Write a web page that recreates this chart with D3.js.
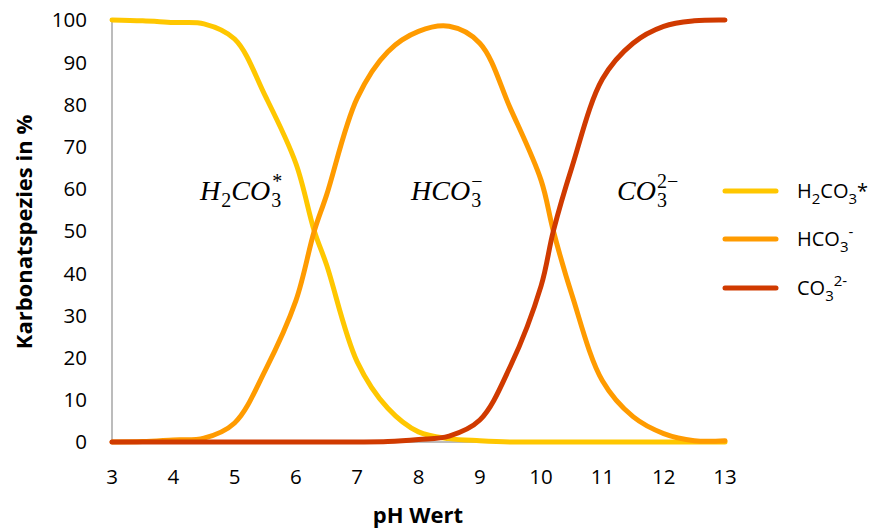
<!DOCTYPE html>
<html>
<head>
<meta charset="utf-8">
<script src="https://cdn.jsdelivr.net/npm/d3@7"></script>
<style>
  html, body { margin: 0; padding: 0; background: #fff; }
  svg { display: block; }
</style>
</head>
<body>
<svg id="chart" width="883" height="531"></svg>
<script>
// ---- data ----
const pH = [3, 3.5, 4, 4.5, 5, 5.5, 6, 6.3, 6.5, 7, 7.5, 8, 8.5, 9, 9.5, 10, 10.2, 10.5, 11, 11.5, 12, 12.5, 13];
const h2co3 = [100, 99.8, 99.4, 99.1, 95.5, 82, 66, 50, 42, 19, 8, 2.4, 0.8, 0.3, 0, 0, 0, 0, 0, 0, 0, 0, 0];
const hco3  = [0, 0.1, 0.5, 0.9, 4.5, 17, 33.5, 50, 58.5, 81.5, 92.5, 97.3, 98.5, 94.5, 79, 62, 50, 35, 14.5, 6, 2, 0.3, 0.3];
const co3   = [0, 0, 0, 0, 0, 0, 0, 0, 0, 0, 0.1, 0.6, 1.4, 5.2, 18, 37, 50, 65, 86, 94.5, 98.5, 99.8, 100];
const seriesNames = ["H2CO3*", "HCO3-", "CO3 2-"];
const xTicks = [3, 4, 5, 6, 7, 8, 9, 10, 11, 12, 13];
const yTicks = [0, 10, 20, 30, 40, 50, 60, 70, 80, 90, 100];
const xTitle = "pH Wert";
const yTitle = "Karbonatspezies in %";
const colors = ["#FFC700", "#FF9B00", "#D03A00"];

const svg = d3.select("#chart");
const x = d3.scaleLinear().domain([3, 13]).range([112, 725]);
const y = d3.scaleLinear().domain([0, 100]).range([442, 20]);
const tickFont = "'Open Sans', Lato, sans-serif";

// axes lines
svg.append("line").attr("x1", x(3)).attr("x2", x(13)).attr("y1", y(0)).attr("y2", y(0))
  .attr("stroke", "#a6a6a6").attr("stroke-width", 1.5);
svg.append("line").attr("x1", x(3)).attr("x2", x(3)).attr("y1", y(0)).attr("y2", y(100))
  .attr("stroke", "#a6a6a6").attr("stroke-width", 1.5);

// tick labels
svg.append("g").selectAll("text").data(yTicks).join("text")
  .attr("x", 87).attr("y", d => y(d)).attr("dy", "0.36em")
  .attr("text-anchor", "end").attr("font-family", tickFont).attr("font-size", 20.5).attr("fill", "#000")
  .text(d => d);
svg.append("g").selectAll("text").data(xTicks).join("text")
  .attr("x", d => x(d)).attr("y", 477).attr("dy", "0.36em")
  .attr("text-anchor", "middle").attr("font-family", tickFont).attr("font-size", 20.5).attr("fill", "#000")
  .text(d => d);

// axis titles
svg.append("text").attr("x", 418).attr("y", 523).attr("text-anchor", "middle")
  .attr("font-family", tickFont).attr("font-weight", "bold").attr("font-size", 22).text(xTitle);
svg.append("text").attr("transform", "translate(24,232) rotate(-90)").attr("dy", "0.36em")
  .attr("text-anchor", "middle").attr("font-family", tickFont).attr("font-weight", "bold")
  .attr("font-size", 22).text(yTitle);

// lines
const series = [h2co3, hco3, co3];
const line = d3.line().x((d, i) => x(pH[i])).y(d => y(d)).curve(d3.curveCatmullRom.alpha(0.5));
svg.append("g").selectAll("path").data(series).join("path")
  .attr("d", d => line(d)).attr("fill", "none")
  .attr("stroke", (d, i) => colors[i]).attr("stroke-width", 5)
  .attr("stroke-linecap", "round").attr("stroke-linejoin", "round");

// annotations (italic math style)
const mathFont = "'Liberation Serif', 'DejaVu Serif', serif";
function mathLabel(xp, parts) {
  const t = svg.append("text").attr("x", xp).attr("y", 200)
    .attr("font-family", mathFont).attr("font-style", "italic").attr("font-size", 28).attr("fill", "#000");
  parts.forEach(p => {
    const ts = t.append("tspan").text(p.t);
    if (p.dy) ts.attr("dy", p.dy);
    if (p.dx) ts.attr("dx", p.dx);
    if (p.size) ts.attr("font-size", p.size);
    if (p.normal) ts.attr("font-style", "normal");
  });
}
mathLabel(200, [{t: "H"}, {t: "2", dx: 1, dy: 7, size: 20, normal: true}, {t: "CO", dy: -7},
  {t: "3", dx: 1, dy: 7, size: 20, normal: true}, {t: "*", dx: -9, dy: -19, size: 20, normal: true}]);
mathLabel(411, [{t: "HCO"}, {t: "3", dx: 1, dy: 7, size: 20, normal: true}, {t: "\u2212", dx: -10, dy: -19, size: 20, normal: true}]);
mathLabel(617, [{t: "CO"}, {t: "3", dx: 1, dy: 7, size: 20, normal: true}, {t: "2\u2212", dx: -10, dy: -19, size: 20, normal: true}]);

// legend
const legY = [191, 239, 288];
const lg = svg.append("g");
lg.selectAll("line").data(colors).join("line")
  .attr("x1", 725).attr("x2", 776).attr("y1", (d, i) => legY[i]).attr("y2", (d, i) => legY[i])
  .attr("stroke", d => d).attr("stroke-width", 5).attr("stroke-linecap", "round");
const legParts = [
  [{t: "H"}, {t: "2", dy: 6, size: 15}, {t: "CO", dy: -6}, {t: "3", dy: 6, size: 15}, {t: "*", dy: -6}],
  [{t: "HCO"}, {t: "3", dy: 6, size: 15}, {t: "-", dy: -15, size: 15}],
  [{t: "CO"}, {t: "3", dy: 6, size: 15}, {t: "2-", dy: -15, size: 15}]
];
legParts.forEach((parts, i) => {
  const t = lg.append("text").attr("x", 797).attr("y", legY[i]).attr("dy", "0.36em")
    .attr("font-family", tickFont).attr("font-size", 20).attr("fill", "#000");
  parts.forEach(p => {
    const ts = t.append("tspan").text(p.t);
    if (p.dy) ts.attr("dy", p.dy);
    if (p.size) ts.attr("font-size", p.size);
  });
});
</script>
</body>
</html>
